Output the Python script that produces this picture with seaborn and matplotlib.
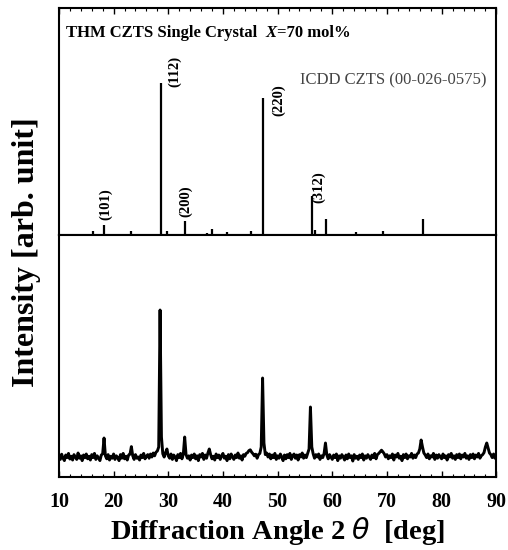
import numpy as np
import pandas as pd
import matplotlib
matplotlib.use("Agg")
import matplotlib.pyplot as plt
import seaborn as sns
from matplotlib.ticker import MultipleLocator

# ICDD CZTS reference card 00-026-0575: line positions [deg] and relative intensities
icdd_2theta = [16.3, 18.2, 23.2, 28.6, 29.7, 33.0, 37.0, 38.0, 40.8, 45.05,
               47.4, 56.2, 56.9, 58.9, 64.25, 69.3, 76.5]
icdd_intensity = [2.6, 6.4, 2.6, 100.0, 2.6, 9.2, 1.5, 3.7, 2.0, 2.6,
                  90.0, 25.6, 3.3, 10.3, 2.0, 2.8, 10.5]

# indexed reflections
hkl_labels = ["(101)", "(112)", "(200)", "(220)", "(312)"]
hkl_2theta = [18.2, 28.6, 33.0, 47.4, 56.2]
hkl_intensity = [6.4, 100.0, 9.2, 90.0, 25.6]

# measured scan of the THM-grown crystal, 10-90 deg in 0.25 deg steps
scan_start = 10.0
scan_step = 0.25
scan_counts = [
    106, 88, 114, 94, 82, 110, 97, 118, 90, 104, 85, 112, 100, 88, 120, 94, 106, 82, 110, 96,      # 10-14.75
    115, 91, 104, 85, 112, 97, 118, 88, 106, 94, 82, 110, 116, 195, 106, 91, 112, 85, 104, 94,     # 15-19.75
    115, 88, 106, 97, 82, 112, 94, 118, 91, 104, 85, 110, 114, 152, 106, 88, 112, 94, 100, 85,     # 20-24.75
    110, 97, 118, 91, 104, 112, 94, 115, 100, 120, 106, 124, 130, 150, 835, 200, 116, 100, 122, 140,  # 25-29.75
    106, 94, 115, 88, 110, 100, 82, 112, 97, 118, 91, 114, 200, 112, 94, 106, 85, 110, 97, 115,    # 30-34.75
    91, 106, 82, 112, 100, 118, 88, 110, 94, 120, 140, 112, 91, 104, 85, 115, 97, 110, 88, 106,    # 35-39.75
    118, 94, 104, 82, 112, 91, 115, 100, 88, 110, 97, 120, 94, 106, 85, 112, 104, 118, 122, 132,   # 40-44.75
    136, 124, 116, 106, 114, 94, 112, 118, 150, 495, 170, 112, 120, 100, 115, 91, 110, 97, 118, 88,  # 45-49.75
    106, 94, 115, 100, 82, 110, 91, 112, 97, 118, 88, 106, 115, 94, 110, 85, 112, 100, 120, 94,    # 50-54.75
    110, 97, 118, 140, 350, 150, 116, 94, 112, 100, 115, 88, 106, 97, 118, 170, 110, 91, 112, 100,  # 55-59.75
    88, 110, 97, 115, 82, 106, 94, 112, 100, 85, 110, 91, 115, 97, 106, 80, 112, 94, 104, 88,      # 60-64.75
    110, 97, 115, 85, 106, 94, 112, 100, 88, 110, 97, 118, 91, 112, 118, 126, 134, 126, 116, 100,  # 65-69.75
    112, 91, 106, 97, 115, 85, 110, 100, 118, 94, 104, 82, 112, 97, 115, 91, 106, 100, 118, 94,    # 70-74.75
    110, 97, 115, 120, 140, 185, 150, 120, 110, 97, 115, 91, 106, 100, 118, 88, 110, 94, 112, 100,  # 75-79.75
    91, 115, 97, 106, 85, 112, 100, 118, 94, 106, 88, 112, 97, 115, 91, 110, 100, 118, 94, 106,    # 80-84.75
    88, 112, 97, 115, 91, 110, 100, 118, 94, 106, 112, 122, 150, 170, 145, 120, 112, 97, 115, 94,  # 85-89.75
    106,                                                                                          # 90
]

scan = pd.DataFrame({
    "two_theta": scan_start + scan_step * np.arange(len(scan_counts)),
    "counts": scan_counts,
})

sns.set_theme(style="ticks")
plt.rcParams["font.family"] = ["Liberation Serif", "DejaVu Serif"]
plt.rcParams["mathtext.fontset"] = "dejavusans"
plt.rcParams["axes.linewidth"] = 1.5
plt.rcParams["axes.edgecolor"] = "black"
plt.rcParams["text.color"] = "black"
plt.rcParams["axes.labelcolor"] = "black"
plt.rcParams["xtick.color"] = "black"
plt.rcParams["xtick.direction"] = "in"
plt.rcParams["ytick.direction"] = "in"

fig = plt.figure(figsize=(5.08, 5.5), dpi=100, facecolor="white")
ax_top = fig.add_axes([0.116, 0.5727, 0.861, 0.4127])
ax_bot = fig.add_axes([0.116, 0.1327, 0.861, 0.4400], sharex=ax_top)

# reference stick pattern
ax_top.vlines(icdd_2theta, 0, icdd_intensity, color="black", linewidth=1.6)
label_offsets = [(1.5, 21), (14.3, 11.7), (1.0, 19.5), (15.5, -2.7), (7.5, 8.5)]
for lab, x, y, (dx, dy) in zip(hkl_labels, hkl_2theta, hkl_intensity, label_offsets):
    ax_top.annotate(lab, xy=(x, y), xytext=(dx, dy), textcoords="offset pixels",
                    rotation=90, ha="center", va="center", fontsize=10.5,
                    fontweight="bold", color="black")

t1 = ax_top.text(0.016, 0.855, "THM CZTS Single Crystal  ", transform=ax_top.transAxes,
                 fontsize=12, fontweight="bold", va="bottom", ha="left", color="black")
t2 = ax_top.annotate("X", xy=(1, 0), xycoords=t1, va="bottom", ha="left",
                     fontsize=12, fontweight="bold", fontstyle="italic", color="black")
ax_top.annotate("=70 mol%", xy=(1, 0), xycoords=t2, va="bottom", ha="left",
                fontsize=12, fontweight="bold", color="black")
ax_top.text(0.978, 0.683, "ICDD CZTS (00-026-0575)", transform=ax_top.transAxes,
            fontsize=12, color="#444444", ha="right", va="center")
ax_top.set_ylim(0, 149)

# measured diffraction pattern
sns.lineplot(data=scan, x="two_theta", y="counts", ax=ax_bot, color="black",
             linewidth=2.1, estimator=None, sort=False)
ax_bot.set_ylim(0, 1210)

for ax in (ax_top, ax_bot):
    ax.set_xlim(10, 90)
    ax.set_yticks([])
    ax.set_ylabel("")
    ax.set_xlabel("")
    ax.xaxis.set_major_locator(MultipleLocator(10))
    ax.xaxis.set_minor_locator(MultipleLocator(2))
    ax.tick_params(axis="x", which="major", length=4, width=1.0, color="black")
    ax.tick_params(axis="x", which="minor", length=2, width=0.8, color="black")
    for s in ax.spines.values():
        s.set_visible(True)
        s.set_linewidth(1.5)
        s.set_color("black")

ax_top.tick_params(axis="x", which="both", top=True, bottom=False, labelbottom=False)
ax_bot.tick_params(axis="x", which="both", top=False, bottom=True, labelbottom=True,
                   labelsize=14.5, pad=11, labelcolor="black")
for lbl in ax_bot.get_xticklabels():
    lbl.set_fontweight("bold")

ax_bot.set_xlabel(r"Diffraction Angle 2 $\theta$  [deg]", fontsize=20.5,
                  fontweight="bold", labelpad=2, color="black")
fig.text(0.052, 0.542, "Intensity [arb. unit]", rotation=90, fontsize=23,
         fontweight="bold", ha="center", va="center", color="black")

fig.savefig("out.png", dpi=100, facecolor="white")
